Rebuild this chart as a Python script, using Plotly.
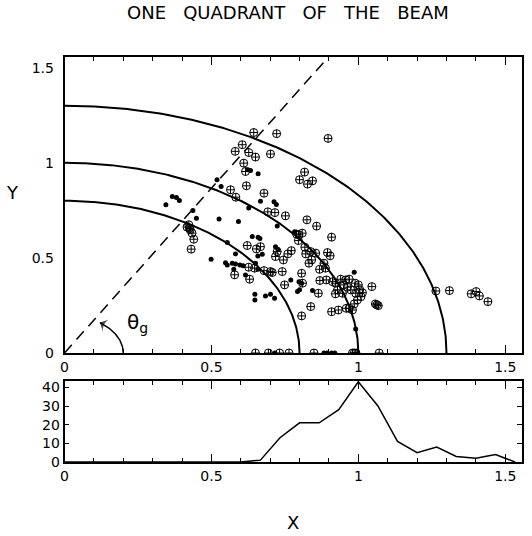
import numpy as np
import plotly.graph_objects as go

# ---------------- data ----------------
TITLE = "ONE   QUADRANT   OF   THE   BEAM"
RADII = [0.8, 1.0, 1.3]
THETA_G_DEG = 60.0

DOT_X = [0.624, 0.633, 0.659, 0.519, 0.533, 0.367, 0.381, 0.391, 0.345, 0.667,
         0.713, 0.721, 0.627, 0.437, 0.449, 0.526, 0.592, 0.724, 0.639, 0.659,
         0.665, 0.499, 0.554, 0.582, 0.548, 0.554, 0.571, 0.582, 0.597, 0.608,
         0.576, 0.616, 0.658, 0.673, 0.718, 0.726, 0.650, 0.658, 0.648, 0.648,
         0.684, 0.701, 0.715, 0.770, 0.798, 0.807, 0.793, 0.800, 0.844, 0.986,
         0.991, 0.716, 0.883, 0.894, 0.909, 0.920, 0.783]
DOT_Y = [0.963, 0.960, 0.942, 0.911, 0.875, 0.823, 0.817, 0.802, 0.779, 0.798,
         0.795, 0.781, 0.762, 0.749, 0.709, 0.705, 0.691, 0.668, 0.612, 0.609,
         0.602, 0.493, 0.581, 0.521, 0.475, 0.463, 0.472, 0.468, 0.463, 0.458,
         0.440, 0.410, 0.510, 0.519, 0.559, 0.546, 0.472, 0.440, 0.309, 0.279,
         0.300, 0.309, 0.288, 0.384, 0.375, 0.367, 0.323, 0.332, 0.328, 0.425,
         0.126, 0.0, 0.0, 0.0, 0.0, 0.0, 0.638]

CROSS_X = [0.644, 0.722, 0.605, 0.581, 0.627, 0.650, 0.701, 0.610, 0.616, 0.619,
           0.565, 0.583, 0.679, 0.692, 0.716, 0.752,
           0.897, 0.817, 0.800, 0.827, 0.844, 0.825, 0.858, 0.909, 0.809, 0.798, 0.790,
           0.423, 0.417, 0.428, 0.434, 0.440, 0.431, 0.425,
           0.622, 0.653, 0.667, 0.718, 0.724, 0.745, 0.760, 0.772, 0.627, 0.647,
           0.679, 0.701, 0.707, 0.741, 0.579, 0.630, 0.749,
           0.796, 0.818, 0.821, 0.838, 0.841, 0.832, 0.855, 0.895, 0.904, 0.883,
           0.888, 0.868, 0.807, 0.810, 0.869, 0.891, 0.864,
           0.912, 0.923, 0.940, 0.957, 0.969, 0.951, 0.963, 0.929, 0.946, 0.974,
           0.989, 1.000, 1.005, 0.991, 1.014, 1.009, 0.997, 0.986, 0.969, 0.980,
           0.959, 1.046, 0.922, 0.909, 0.932, 0.838, 0.807, 1.063, 1.058, 1.068,
           1.264, 1.310, 1.384, 1.401, 1.412, 1.441,
           0.650, 0.694, 0.732, 0.764, 0.849, 0.980, 0.986, 0.992, 1.071]
CROSS_Y = [1.159, 1.153, 1.095, 1.060, 1.054, 1.030, 1.046, 0.998, 0.954, 0.879,
           0.858, 0.819, 0.840, 0.742, 0.738, 0.721,
           1.128, 0.951, 0.911, 0.888, 0.905, 0.700, 0.667, 0.609, 0.630, 0.621, 0.625,
           0.674, 0.662, 0.647, 0.630, 0.598, 0.546, 0.655,
           0.565, 0.547, 0.559, 0.507, 0.533, 0.489, 0.521, 0.538, 0.451, 0.446,
           0.433, 0.428, 0.423, 0.428, 0.411, 0.388, 0.358,
           0.591, 0.556, 0.521, 0.533, 0.489, 0.472, 0.525, 0.528, 0.511, 0.472,
           0.446, 0.440, 0.419, 0.367, 0.381, 0.384, 0.314,
           0.375, 0.367, 0.388, 0.384, 0.388, 0.358, 0.346, 0.332, 0.314, 0.332,
           0.367, 0.358, 0.332, 0.314, 0.317, 0.296, 0.279, 0.258, 0.235, 0.226,
           0.235, 0.349, 0.311, 0.217, 0.226, 0.244, 0.195, 0.253, 0.258, 0.249,
           0.326, 0.328, 0.311, 0.323, 0.300, 0.270,
           0.0, 0.0, 0.0, 0.0, 0.0, 0.0, 0.0, 0.0, 0.0]

BIN_X = [k / 15 for k in range(24)]
COUNTS = [0, 0, 0, 0, 0, 0, 0, 0, 0, 0, 1, 13, 21, 21, 28, 43, 30, 11, 5, 8, 3, 2, 4, 0]

X_TICKS = [0, 0.5, 1, 1.5]
X_TICK_TEXT = ["0", "0.5", "1", "1.5"]
Y_TICKS = [0, 0.5, 1, 1.5]
Y_TICK_TEXT = ["0", "0.5", "1", "1.5"]
H_TICKS = [0, 10, 20, 30, 40]

# ---------------- figure ----------------
W, H = 532, 536
FONT = "DejaVu Sans"
XMAX = 1.556
fig = go.Figure()

th = np.linspace(0, np.pi / 2, 200)
for r in RADII:
    fig.add_trace(go.Scatter(x=r * np.cos(th), y=r * np.sin(th), mode="lines",
                             line=dict(color="black", width=2), hoverinfo="skip",
                             xaxis="x", yaxis="y"))

tg = np.radians(THETA_G_DEG)
fig.add_trace(go.Scatter(x=[0, XMAX / np.tan(tg)], y=[0, XMAX], mode="lines",
                         line=dict(color="black", width=1.5, dash="11px,7px"),
                         hoverinfo="skip"))

# theta arc with arrowhead at its end
ra = 0.2
ta = np.linspace(0, np.radians(53), 60)
fig.add_trace(go.Scatter(x=ra * np.cos(ta), y=ra * np.sin(ta), mode="lines",
                         line=dict(color="black", width=1.5), hoverinfo="skip"))
fig.add_trace(go.Scatter(x=ra * np.cos(ta[-6:]), y=ra * np.sin(ta[-6:]), mode="markers",
                         marker=dict(symbol="arrow-wide", size=[0, 0, 0, 0, 0, 11],
                                     angleref="previous", color="black",
                                     line=dict(width=0)),
                         hoverinfo="skip"))

fig.add_trace(go.Scatter(x=DOT_X, y=DOT_Y, mode="markers",
                         marker=dict(symbol="circle", size=5, color="black"),
                         hoverinfo="skip"))
fig.add_trace(go.Scatter(x=CROSS_X, y=CROSS_Y, mode="markers",
                         marker=dict(symbol="circle-cross-open", size=8, color="black",
                                     line=dict(width=1, color="black")),
                         hoverinfo="skip"))

fig.add_trace(go.Scatter(x=BIN_X, y=COUNTS, mode="lines",
                         line=dict(color="black", width=1.5),
                         xaxis="x2", yaxis="y2", hoverinfo="skip"))

ax_common = dict(showgrid=False, zeroline=False, showline=True, linecolor="black",
                 linewidth=1.5, automargin=False,
                 tickfont=dict(family=FONT, size=14, color="black"))

xd = [64.5 / W, 521.7 / W]
fig.update_layout(
    width=W, height=H, margin=dict(l=0, r=0, t=0, b=0, autoexpand=False),
    paper_bgcolor="white", plot_bgcolor="white", showlegend=False,
    xaxis=dict(domain=xd, range=[0, XMAX], anchor="y", mirror="ticks",
               ticks="inside", ticklen=8, tickcolor="black", tickwidth=1,
               tickvals=X_TICKS, ticktext=X_TICK_TEXT,
               minor=dict(dtick=0.1, tick0=0, ticks="inside", ticklen=4,
                          tickcolor="black", tickwidth=1),
               **ax_common),
    yaxis=dict(domain=[(H - 353) / H, (H - 57) / H], range=[0, XMAX], anchor="x",
               mirror=True, ticks="", tickvals=Y_TICKS, ticktext=Y_TICK_TEXT,
               ticklabelstandoff=6, **ax_common),
    xaxis2=dict(domain=xd, range=[0, XMAX], anchor="y2", mirror="ticks",
                ticks="inside", ticklen=8, tickcolor="black", tickwidth=1,
                tickvals=X_TICKS, ticktext=X_TICK_TEXT,
                minor=dict(dtick=0.1, tick0=0, ticks="inside", ticklen=4,
                           tickcolor="black", tickwidth=1),
                **ax_common),
    yaxis2=dict(domain=[(H - 462) / H, (H - 381) / H], range=[0, 43.4], anchor="x2",
                mirror="ticks", ticks="inside", ticklen=5, tickcolor="black",
                tickvals=H_TICKS, **ax_common),
)

fig.add_annotation(text=TITLE, xref="paper", yref="paper", x=288 / W, y=(H - 13) / H,
                   xanchor="center", yanchor="middle", showarrow=False,
                   font=dict(family="DejaVu Sans", size=18, color="black"))
fig.add_annotation(text="Y", xref="paper", yref="paper", x=12 / W, y=(H - 193) / H,
                   xanchor="center", yanchor="middle", showarrow=False,
                   font=dict(family=FONT, size=18, color="black"))
fig.add_annotation(text="X", xref="paper", yref="paper", x=293 / W, y=(H - 522) / H,
                   xanchor="center", yanchor="middle", showarrow=False,
                   font=dict(family=FONT, size=18, color="black"))
fig.add_annotation(text="θ<sub>g</sub>", xref="x", yref="y", x=0.25, y=0.16,
                   xanchor="center", yanchor="middle", showarrow=False,
                   font=dict(family="DejaVu Sans", size=20, color="black"))

fig.write_html("out.html")
